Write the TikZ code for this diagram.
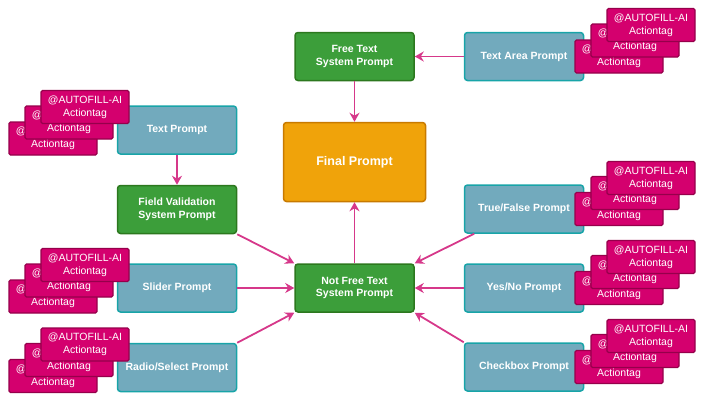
\documentclass[tikz,border=0pt]{standalone}
\usepackage{fontspec}
\setmainfont{Liberation Sans}
\usetikzlibrary{arrows.meta}
\definecolor{promptfill}{RGB}{114,170,189}
\definecolor{promptline}{RGB}{24,164,168}
\definecolor{sysfill}{RGB}{60,158,58}
\definecolor{sysline}{RGB}{44,120,30}
\definecolor{finalfill}{RGB}{240,163,10}
\definecolor{finalline}{RGB}{200,122,0}
\definecolor{tagfill}{RGB}{212,0,110}
\definecolor{tagline}{RGB}{150,0,75}
\definecolor{linkcolor}{RGB}{214,56,138}
\tikzset{
	prompt/.style={rectangle, rounded corners=3pt, draw=promptline, fill=promptfill, line width=1.5pt, minimum width=119pt, minimum height=48pt, text=white, align=center, font=\fontsize{10.5}{12.5}\selectfont\bfseries},
	system/.style={prompt, draw=sysline, fill=sysfill},
	final/.style={prompt, draw=finalline, fill=finalfill, minimum width=142pt, minimum height=79pt, font=\fontsize{12.5}{15}\selectfont\bfseries},
	actiontag/.style={rectangle, rounded corners=1.5pt, draw=tagline, fill=tagfill, line width=1.2pt, minimum width=88pt, minimum height=33pt, inner sep=1pt, text=white, align=center, font=\fontsize{10.5}{13}\selectfont},
	link/.style={draw=linkcolor, line width=1.8pt, -{Stealth[length=9pt,width=10pt]}}
}
\begin{document}
\begin{tikzpicture}[x=1pt, y=-1pt]
	\useasboundingbox (0,0) rectangle (703,400);
	% system prompts in the middle
	\node[system] (ft) at (354.5, 56.5) {Free Text\\System Prompt};
	\node[final] (fp) at (354.5, 162) {Final Prompt};
	\node[system] (nf) at (354.5, 288) {Not Free Text\\System Prompt};

	% left column
	\node[prompt] (tp) at (177, 130) {Text Prompt};
	\node[system] (fv) at (177, 209.5) {Field Validation\\System Prompt};
	\node[prompt] (sl) at (177, 288) {Slider Prompt};
	\node[prompt] (rs) at (177, 367.5) {Radio/Select Prompt};

	% right column
	\node[prompt] (ta) at (524, 56.5) {Text Area Prompt};
	\node[prompt] (tf) at (524, 209) {True/False Prompt};
	\node[prompt] (yn) at (524, 288) {Yes/No Prompt};
	\node[prompt] (cb) at (524, 367) {Checkbox Prompt};

	% action tags, left side
	\node[actiontag] (tp1) at (53, 138.5) {@AUTOFILL-AI\\Actiontag};
	\node[actiontag] (tp2) at (69, 122.5) {@AUTOFILL-AI\\Actiontag};
	\node[actiontag] (tp3) at (85, 107) {@AUTOFILL-AI\\Actiontag};
	\node[actiontag] (sl1) at (53, 296.5) {@AUTOFILL-AI\\Actiontag};
	\node[actiontag] (sl2) at (69, 280.5) {@AUTOFILL-AI\\Actiontag};
	\node[actiontag] (sl3) at (85, 265) {@AUTOFILL-AI\\Actiontag};
	\node[actiontag] (rs1) at (53, 376) {@AUTOFILL-AI\\Actiontag};
	\node[actiontag] (rs2) at (69, 360) {@AUTOFILL-AI\\Actiontag};
	\node[actiontag] (rs3) at (85, 344.5) {@AUTOFILL-AI\\Actiontag};

	% action tags, right side
	\node[actiontag] (ta1) at (619, 56.5) {@AUTOFILL-AI\\Actiontag};
	\node[actiontag] (ta2) at (635, 40.5) {@AUTOFILL-AI\\Actiontag};
	\node[actiontag] (ta3) at (651, 25) {@AUTOFILL-AI\\Actiontag};
	\node[actiontag] (tf1) at (619, 209) {@AUTOFILL-AI\\Actiontag};
	\node[actiontag] (tf2) at (635, 193) {@AUTOFILL-AI\\Actiontag};
	\node[actiontag] (tf3) at (651, 178) {@AUTOFILL-AI\\Actiontag};
	\node[actiontag] (yn1) at (619, 288) {@AUTOFILL-AI\\Actiontag};
	\node[actiontag] (yn2) at (635, 272) {@AUTOFILL-AI\\Actiontag};
	\node[actiontag] (yn3) at (651, 257) {@AUTOFILL-AI\\Actiontag};
	\node[actiontag] (cb1) at (619, 367) {@AUTOFILL-AI\\Actiontag};
	\node[actiontag] (cb2) at (635, 351) {@AUTOFILL-AI\\Actiontag};
	\node[actiontag] (cb3) at (651, 336) {@AUTOFILL-AI\\Actiontag};

	% connectors
	\draw[link] (ta) -- (ft);
	\draw[link] (ft) -- (fp);
	\draw[link] (tp) -- (fv);
	\draw[link] (fv.south east) -- (nf.north west);
	\draw[link] (sl) -- (nf);
	\draw[link] (rs.north east) -- (nf.south west);
	\draw[link] (tf) -- (nf.north east);
	\draw[link] (yn) -- (nf);
	\draw[link] (cb.north west) -- (nf.south east);
	\draw[link] (nf) -- (fp);
\end{tikzpicture}
\end{document}
